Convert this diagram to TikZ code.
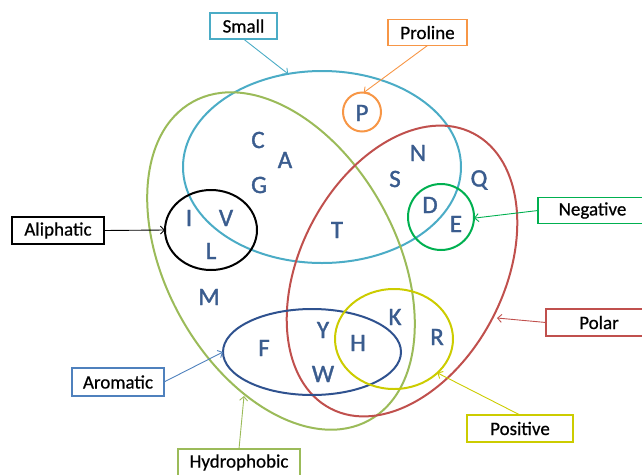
\documentclass[tikz,border=0pt]{standalone}
\usepackage{fontspec}
\setmainfont{Carlito}
\newfontfamily\letfont[FakeBold=1.4]{Carlito}
\newfontfamily\lblfont[FakeBold=0.6]{Carlito}
\usetikzlibrary{shapes.geometric,arrows.meta}
\definecolor{cSmall}{HTML}{4BACC6}
\definecolor{cPro}{HTML}{F79646}
\definecolor{cNeg}{HTML}{00B050}
\definecolor{cPol}{HTML}{C0504D}
\definecolor{cPos}{HTML}{CCCC00}
\definecolor{cHyd}{HTML}{9BBB59}
\definecolor{cAroBox}{HTML}{4F81BD}
\definecolor{cAro}{HTML}{2F528F}
\definecolor{cLet}{HTML}{3A5C8E}
\begin{document}
\begin{tikzpicture}[x=1pt,y=1pt,
  ring/.style={ellipse, line width=2pt, inner sep=0pt, outer sep=0pt},
  lbl/.style={draw, line width=1.5pt, fill=white, inner sep=0pt, outer sep=0pt,
    font=\lblfont\fontsize{19}{19}\selectfont, text=black},
  aa/.style={font=\letfont\fontsize{25}{25}\selectfont, text=cLet, inner sep=0pt},
  arr/.style={-{Straight Barb[length=4pt,width=8pt]}, line width=0.9pt}]
\useasboundingbox (0,0) rectangle (642,-474);
\clip (0,0) rectangle (642,-474);
% sets
\node[ring, draw=cSmall, minimum width=278pt, minimum height=192pt] (small) at (322,-167) {};
\node[ring, draw=cHyd, minimum width=364pt, minimum height=230pt, rotate=-61] (hyd) at (281,-261) {};
\node[ring, draw=cPol, minimum width=310pt, minimum height=204pt, rotate=62.6] (pol) at (402,-271) {};
\node[ring, draw=black, minimum width=92pt, minimum height=80pt] (ali) at (211,-230) {};
\node[ring, draw=cNeg, minimum width=66pt, minimum height=66pt] (neg) at (441,-217) {};
\node[ring, draw=cPro, minimum width=38pt, minimum height=39pt] (pro) at (362,-112) {};
\node[ring, draw=cAro, minimum width=178pt, minimum height=86pt] (aro) at (312,-352) {};
\node[ring, draw=cPos, minimum width=118pt, minimum height=100pt] (pos) at (394,-339) {};
% letters
\node[aa] (lC) at (258,-140) {C};
\node[aa] (lA) at (285,-160) {A};
\node[aa] (lG) at (259,-185) {G};
\node[aa] (lI) at (189,-218) {I};
\node[aa] (lV) at (226,-218) {V};
\node[aa] (lL) at (211,-251) {L};
\node[aa] (lM) at (209,-297) {M};
\node[aa] (lT) at (337,-230) {T};
\node[aa] (lN) at (418,-153) {N};
\node[aa] (lS) at (395,-179) {S};
\node[aa] (lQ) at (479,-180) {Q};
\node[aa] (lD) at (430,-205) {D};
\node[aa] (lE) at (456,-224) {E};
\node[aa] (lP) at (362,-113) {P};
\node[aa] (lK) at (395,-317) {K};
\node[aa] (lR) at (437,-337) {R};
\node[aa] (lY) at (323,-330) {Y};
\node[aa] (lH) at (358,-343) {H};
\node[aa] (lF) at (264,-348) {F};
\node[aa] (lW) at (323,-374) {W};
% label boxes
\node[lbl, draw=cSmall, minimum width=67pt, minimum height=26pt] (bSmall) at (243.5,-26) {Small};
\node[lbl, draw=cPro, minimum width=79pt, minimum height=26pt] (bPro) at (427.5,-32.5) {Proline};
\node[lbl, draw=cNeg, minimum width=109pt, minimum height=26pt] (bNeg) at (592.5,-210.5) {Negative};
\node[lbl, draw=cPol, minimum width=106pt, minimum height=27pt] (bPol) at (599,-322.5) {Polar};
\node[lbl, draw=cPos, minimum width=106pt, minimum height=27pt] (bPos) at (520,-428.5) {Positive};
\node[lbl, draw=cHyd, minimum width=122pt, minimum height=27pt] (bHyd) at (239,-462.5) {Hydrophobic};
\node[lbl, draw=cAroBox, minimum width=92pt, minimum height=28pt] (bAro) at (118,-382) {Aromatic};
\node[lbl, draw=black, minimum width=92pt, minimum height=27pt] (bAli) at (58,-230.5) {Aliphatic};
% arrow targets on rotated sets
\coordinate (tPol) at (497,-318);
\coordinate (tHyd) at (244,-396);
% connectors
\draw[arr, draw=cSmall] (bSmall.south) -- (small.110);
\draw[arr, draw=cPro] (bPro.south) -- (pro.85);
\draw[arr, draw=cNeg] (bNeg.west) -- (neg.-2);
\draw[arr, draw=cPol] (bPol.west) -- (tPol);
\draw[arr, draw=cPos] (bPos.north) -- (pos.-38);
\draw[arr, draw=cHyd] (bHyd.north) -- (tHyd);
\draw[arr, draw=cAroBox] (bAro.east) -- (aro.180);
\draw[arr, draw=black] (bAli.east) -- (ali.180);
\end{tikzpicture}
\end{document}
